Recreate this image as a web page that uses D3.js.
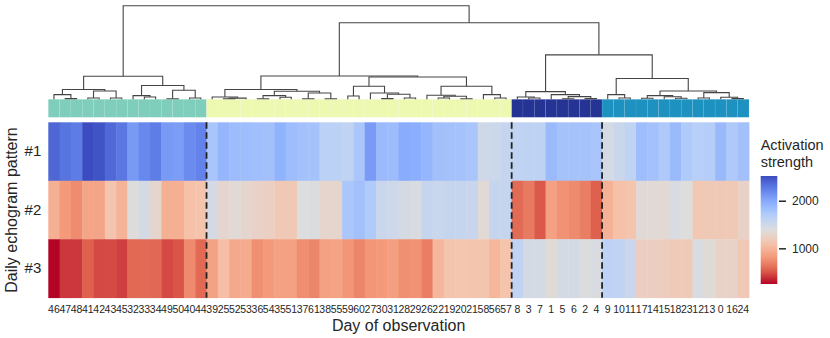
<!DOCTYPE html>
<html>
<head>
<meta charset="utf-8">
<script src="https://cdn.jsdelivr.net/npm/d3@7"></script>
<style>
  body { margin: 0; background: #fff; }
  text { font-family: "Liberation Sans", Arial, sans-serif; fill: #262626; }
</style>
</head>
<body>
<svg id="chart" width="830" height="338"></svg>
<script>
// columns in dendrogram (leaf) order
const dayOrder = [46, 47, 48, 41, 42, 43, 45, 32, 33, 34, 49, 50, 40, 44,
    39, 25, 52, 53, 36, 54, 35, 51, 37, 61, 38, 55, 59, 60, 27, 30, 31, 28, 29, 26, 22, 19, 20, 21, 58, 56, 57,
    8, 3, 7, 1, 5, 6, 2, 4,
    9, 10, 11, 17, 14, 15, 18, 23, 12, 13, 0, 16, 24];

const patternNames = ["#1", "#2", "#3"];

const pattern1 = [2380, 2310, 2270, 2520, 2480, 2370, 2290, 2090, 2200, 2260, 2090, 2070, 2180, 2230,
    1770, 1900, 1850, 1840, 1820, 1810, 1930, 1840, 1800, 1790, 1640, 1640, 1600, 1760, 2080, 1860, 1850, 1980, 1960, 1900, 1810, 1800, 1790, 1770, 1490, 1520, 1570,
    1600, 1620, 1620, 1860, 1790, 1790, 1790, 1770,
    1460, 1530, 1600, 1840, 1800, 1730, 1860, 1720, 1670, 1690, 1870, 1730, 1810];

const pattern2 = [963, 817, 749, 886, 886, 1113, 988, 1374, 1455, 1303, 963, 963, 1081, 1100,
    1460, 1300, 1340, 1300, 1250, 1230, 1160, 1160, 1390, 1400, 1290, 1290, 1760, 1810, 1720, 1540, 1500, 1460, 1420, 1560, 1540, 1560, 1560, 1550, 1340, 1560, 1560,
    588, 659, 513, 863, 777, 738, 681, 538,
    980, 1080, 1100, 1340, 1340, 1330, 1420, 1380, 1150, 1160, 1160, 1160, 1250];

const pattern3 = [250, 408, 408, 534, 463, 470, 432, 579, 588, 575, 463, 500, 738, 585,
    870, 1060, 920, 930, 770, 820, 860, 860, 760, 720, 860, 880, 800, 720, 800, 820, 850, 770, 780, 680, 1010, 1110, 1120, 1110, 1110, 1010, 1100,
    1600, 1460, 1460, 1350, 1460, 1460, 1400, 1420,
    1630, 1610, 1540, 1220, 1220, 1200, 1170, 1170, 1420, 1350, 1260, 1260, 1160];

const clusterSizes = [14, 27, 8, 13];
const clusterColors = ["#7fcdbb", "#edf8b1", "#253494", "#1d91c0"];
const colorbarTicks = [1000, 2000];
const coolwarm = ["#3b4cc0", "#6282ea", "#8db0fe", "#b8d0f9", "#dddddd", "#f5c4ac", "#f49a7b", "#de604d", "#b40426"];

// linkage tree: [height, left, right], leaves are days
const tealTree = [23, [9.7, [4.7, 46, [0.7, 47, 48]], [8.3, [1.3, 41, 42], [1.3, 43, 45]]],
    [13.7, [3.7, 32, [2.3, 33, 34]], [9, [0.6, 49, 50], [1.3, 40, 44]]]];
const yellowTree = [23.2,
    [9.7, [2.3, 39, [1.2, [0.6, 25, 52], 53]],
        [8, [3.7, [0.5, 36, 54], [2, 35, 51]], [6.3, [0.5, 37, 61], [0.5, 38, 55]]]],
    [22.3, [13, [3.3, 59, 60], [6.3, 27, [5, [0.7, 30, 31], [1.3, 28, 29]]]],
        [13, [4, 26, [3, [1.3, 22, 19], [0.5, 20, 21]]], [4.7, 58, [1.3, 56, 57]]]]];
const darkTree = [7.7, [2.3, 8, [1.3, 3, 7]], [4.7, 1, [2.7, [0.5, 5, 6], [0.7, 2, 4]]]];
const lightTree = [20.7, [4.7, 9, [1.3, 10, 11]],
    [8.3, [3.7, [1, 17, 14], [2.5, 15, [1, 18, 23]]], [6.7, [1.3, 12, 13], [2, 0, [0.7, 16, 24]]]]];
const rootTree = [93.3, tealTree, [76.3, yellowTree, [44.3, darkTree, lightTree]]];

const svg = d3.select("#chart");

const x = d3.scaleBand().domain(dayOrder).range([48.3, 749]);
const y = d3.scaleBand().domain(patternNames).range([122.3, 297.7]);

const rows = [pattern1, pattern2, pattern3];
const vmin = d3.min(rows.flat());
const vmax = d3.max(rows.flat());
const cw = d3.piecewise(d3.interpolateRgb, coolwarm);
const color = d3.scaleSequential(t => cw(1 - t)).domain([vmin, vmax]);

// heatmap
const cells = rows.flatMap((r, i) => r.map((v, j) => ({ p: patternNames[i], day: dayOrder[j], v })));
svg.append("g")
    .selectAll("rect")
    .data(cells)
    .enter()
    .append("rect")
    .attr("x", d => x(d.day))
    .attr("y", d => y(d.p))
    .attr("width", x.bandwidth() + 0.4)
    .attr("height", y.bandwidth() + 0.4)
    .attr("fill", d => color(d.v));

// cluster colour strip
const bounds = d3.cumsum(clusterSizes);
const clusterOf = dayOrder.map((d, i) => bounds.findIndex(b => i < b));
svg.append("g")
    .selectAll("rect")
    .data(dayOrder)
    .enter()
    .append("rect")
    .attr("x", d => x(d))
    .attr("y", 99.3)
    .attr("width", x.bandwidth())
    .attr("height", 18)
    .attr("fill", (d, i) => clusterColors[clusterOf[i]])
    .attr("stroke", "#fff")
    .attr("stroke-opacity", 0.12)
    .attr("stroke-width", 0.6);

// dashed cluster separators
svg.append("g")
    .selectAll("line")
    .data(bounds.slice(0, -1))
    .enter()
    .append("line")
    .attr("x1", b => x(dayOrder[b]))
    .attr("x2", b => x(dayOrder[b]))
    .attr("y1", 122.3)
    .attr("y2", 297.7)
    .attr("stroke", "#222")
    .attr("stroke-width", 1.8)
    .attr("stroke-dasharray", "6.5,3.5");

// dendrogram
const hScale = d3.scaleLinear().domain([0, rootTree[0]]).range([99.3, 5.7]);
const links = [];
function layout(node) {
    if (typeof node === "number") return { x: x(node) + x.bandwidth() / 2, h: 0 };
    const a = layout(node[1]);
    const b = layout(node[2]);
    links.push(`M${a.x},${hScale(a.h)}V${hScale(node[0])}H${b.x}V${hScale(b.h)}`);
    return { x: (a.x + b.x) / 2, h: node[0] };
}
layout(rootTree);
svg.append("g")
    .selectAll("path")
    .data(links)
    .enter()
    .append("path")
    .attr("d", d => d)
    .attr("fill", "none")
    .attr("stroke", "#444")
    .attr("stroke-width", 1.1);

// axes
const xAxis = svg.append("g")
    .attr("transform", "translate(0,297.7)")
    .call(d3.axisBottom(x).tickSize(0).tickPadding(8));
xAxis.select(".domain").remove();
xAxis.selectAll("text").style("font-size", "10.5px").attr("fill", "#262626");

const yAxis = svg.append("g")
    .attr("transform", "translate(48.3,0)")
    .call(d3.axisLeft(y).tickSize(0).tickPadding(7));
yAxis.select(".domain").remove();
yAxis.selectAll("text").style("font-size", "15px").attr("fill", "#262626");

svg.append("text")
    .attr("transform", "translate(17,210) rotate(-90)")
    .attr("text-anchor", "middle")
    .style("font-size", "16px")
    .text("Daily echogram pattern");

svg.append("text")
    .attr("x", 398.6)
    .attr("y", 331)
    .attr("text-anchor", "middle")
    .style("font-size", "16px")
    .text("Day of observation");

// colorbar
const grad = svg.append("defs").append("linearGradient")
    .attr("id", "cbar")
    .attr("x1", 0).attr("y1", 1).attr("x2", 0).attr("y2", 0);
d3.range(0, 21).forEach(i => {
    grad.append("stop")
        .attr("offset", i / 20)
        .attr("stop-color", color(vmin + (vmax - vmin) * i / 20));
});
const cb = d3.scaleLinear().domain([vmin, vmax]).range([284, 176]);
svg.append("rect")
    .attr("x", 760.7)
    .attr("y", cb(vmax))
    .attr("width", 16.6)
    .attr("height", cb(vmin) - cb(vmax))
    .attr("fill", "url(#cbar)");

const cbAxis = svg.append("g")
    .attr("transform", "translate(779,0)")
    .call(d3.axisRight(cb).tickValues(colorbarTicks).tickSize(7).tickPadding(6).tickFormat(d3.format("d")));
cbAxis.select(".domain").remove();
cbAxis.selectAll("line").attr("stroke", "#262626").attr("stroke-width", 1.5);
cbAxis.selectAll("text").style("font-size", "12px").attr("fill", "#262626");

svg.append("text")
    .attr("x", 760.7)
    .attr("y", 150)
    .style("font-size", "14.5px")
    .text("Activation");
svg.append("text")
    .attr("x", 760.7)
    .attr("y", 166.5)
    .style("font-size", "14.5px")
    .text("strength");
</script>
</body>
</html>
